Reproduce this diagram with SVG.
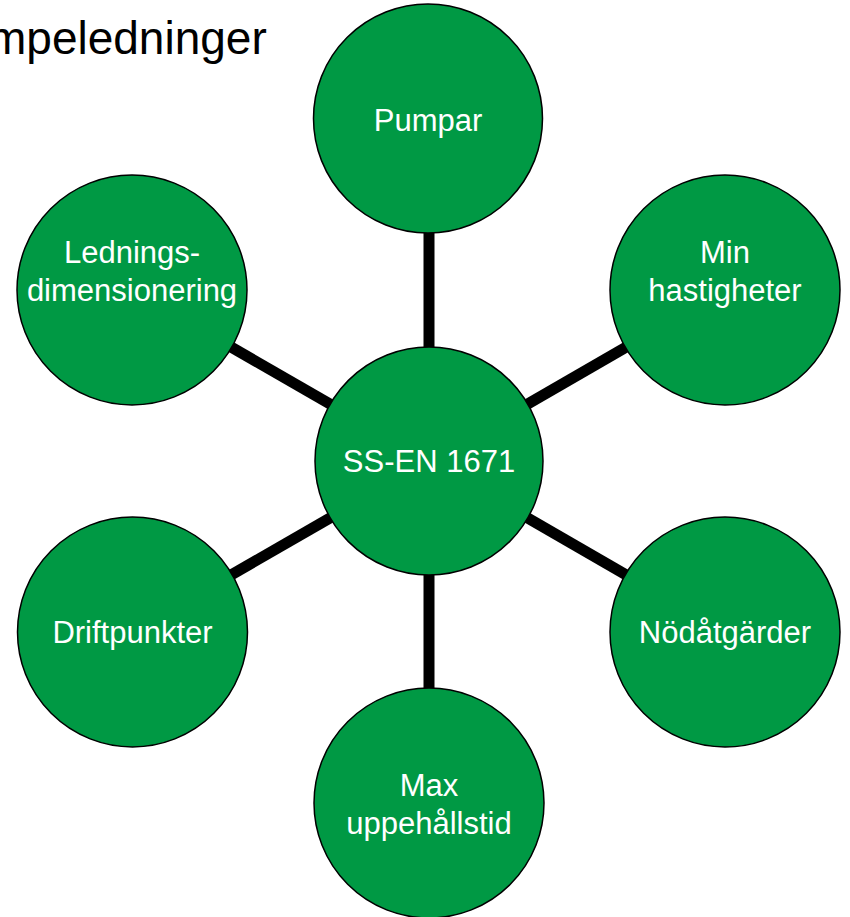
<svg xmlns="http://www.w3.org/2000/svg" width="850" height="917" viewBox="0 0 850 917">
<style>
.n{fill:#009944;stroke:#000;stroke-width:1.5}
.t{font-family:"Liberation Sans",Arial,sans-serif;font-size:31px;fill:#fff;text-anchor:middle}
.c{stroke:#000;stroke-width:11}
</style>
<rect width="850" height="917" fill="#fff"/>
<text x="-12" y="54" font-family="Liberation Sans, Arial, sans-serif" font-size="46" fill="#000">mpeledninger</text>
<g id="connectors">
<line class="c" x1="429" y1="461" x2="429" y2="118"/>
<line class="c" x1="429" y1="461" x2="725" y2="290"/>
<line class="c" x1="429" y1="461" x2="725" y2="632"/>
<line class="c" x1="429" y1="461" x2="429" y2="803"/>
<line class="c" x1="429" y1="461" x2="132" y2="632"/>
<line class="c" x1="429" y1="461" x2="132" y2="290"/>
</g>
<g id="center"><circle class="n" cx="429" cy="461" r="114"/><text class="t" x="429" y="472">SS-EN 1671</text></g>
<g id="pumpar"><circle class="n" cx="428" cy="118.5" r="114.5"/><text class="t" x="428" y="131">Pumpar</text></g>
<g id="min"><circle class="n" cx="725" cy="290" r="115"/><text class="t" x="725" y="263">Min</text><text class="t" x="725" y="301">hastigheter</text></g>
<g id="nod"><circle class="n" cx="725" cy="632" r="115"/><text class="t" x="725" y="643">Nödåtgärder</text></g>
<g id="max"><circle class="n" cx="429" cy="803" r="115"/><text class="t" x="429" y="796">Max</text><text class="t" x="429" y="834">uppehållstid</text></g>
<g id="drift"><circle class="n" cx="132.5" cy="632" r="115"/><text class="t" x="132.5" y="643">Driftpunkter</text></g>
<g id="ledning"><circle class="n" cx="132" cy="290" r="115"/><text class="t" x="132" y="263">Lednings-</text><text class="t" x="132" y="301">dimensionering</text></g>
</svg>
